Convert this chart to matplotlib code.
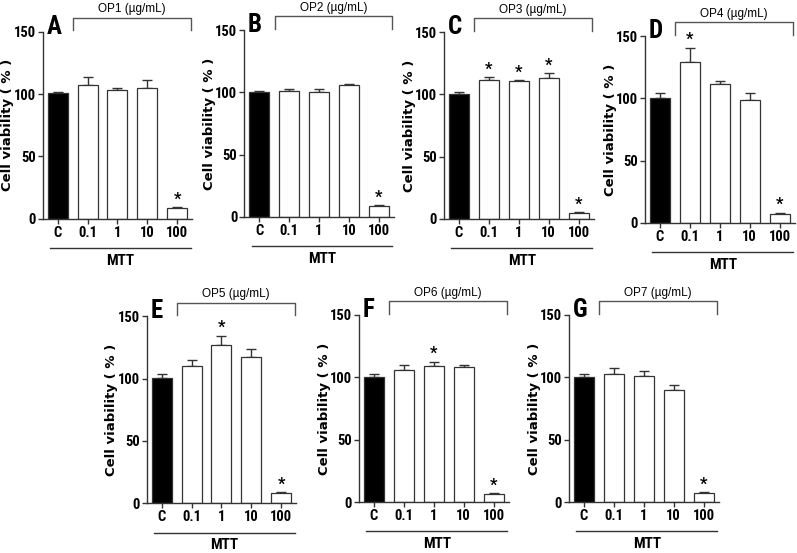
import matplotlib
matplotlib.use("Agg")
import matplotlib.pyplot as plt
from matplotlib import font_manager
from matplotlib.font_manager import FontProperties

plt.rcParams["font.family"] = ["Liberation Sans", "DejaVu Sans"]

# look for an upright condensed bold sans among the installed fonts
narrow_path = None
for f in font_manager.fontManager.ttflist:
    tag = (f.name + " " + f.fname).lower()
    fn = f.fname.lower()
    if not ("narrow" in tag or "condensed" in tag):
        continue
    if "mono" in tag or "serif" in tag or "italic" in fn or f.style != "normal":
        continue
    if "semi" in fn or "extra" in fn or "black" in fn or "light" in fn:
        continue
    if f.weight in ("bold", 700) or "bold" in fn:
        narrow_path = f.fname
        if "liberation" in tag:
            break

doses = ["C", "0.1", "1", "10", "100"]

op1_mean = [100.5, 107.5, 103.5, 105.0, 8.6]
op1_err = [1.1, 6.5, 1.6, 6.2, 0.8]
op1_sig = [0, 0, 0, 0, 1]

op2_mean = [100.5, 101.2, 100.2, 106.0, 8.5]
op2_err = [0.8, 1.2, 2.6, 0.9, 0.8]
op2_sig = [0, 0, 0, 0, 1]

op3_mean = [100.4, 111.6, 110.5, 112.8, 4.6]
op3_err = [1.4, 2.2, 0.8, 4.2, 0.8]
op3_sig = [0, 1, 1, 1, 1]

op4_mean = [100.6, 129.5, 111.8, 98.8, 7.6]
op4_err = [3.8, 11.0, 2.5, 5.8, 0.6]
op4_sig = [0, 1, 0, 0, 1]

op5_mean = [100.8, 109.8, 127.2, 117.0, 8.0]
op5_err = [3.2, 5.2, 7.3, 6.5, 0.8]
op5_sig = [0, 0, 1, 0, 1]

op6_mean = [100.4, 106.0, 109.3, 108.5, 6.2]
op6_err = [1.9, 3.5, 3.2, 1.1, 0.8]
op6_sig = [0, 0, 1, 0, 1]

op7_mean = [100.4, 102.6, 101.0, 90.0, 7.2]
op7_err = [2.2, 4.8, 4.3, 4.0, 0.8]
op7_sig = [0, 0, 0, 0, 1]

letters = ["A", "B", "C", "D", "E", "F", "G"]
titles = ["OP1 (µg/mL)", "OP2 (µg/mL)", "OP3 (µg/mL)", "OP4 (µg/mL)",
          "OP5 (µg/mL)", "OP6 (µg/mL)", "OP7 (µg/mL)"]

panels = [
    (op1_mean, op1_err, op1_sig),
    (op2_mean, op2_err, op2_sig),
    (op3_mean, op3_err, op3_sig),
    (op4_mean, op4_err, op4_sig),
    (op5_mean, op5_err, op5_sig),
    (op6_mean, op6_err, op6_sig),
    (op7_mean, op7_err, op7_sig),
]


def nfont(size):
    if narrow_path:
        return FontProperties(fname=narrow_path, size=size)
    return FontProperties(family="Liberation Sans", weight="bold", size=size * 0.86)


W, H = 797.0, 553.0
# axes boxes in pixels: left x, y of the 0 line (from the top)
boxes = [(42.7, 218.7), (244.3, 217.0), (444.0, 219.0), (645.0, 223.0),
         (146.7, 503.3), (359.0, 502.0), (569.0, 502.0)]
aw, ah = 149.5, 187.0

fig = plt.figure(figsize=(W / 100, H / 100), dpi=100)
edge = "#333333"

for i, (mean, err, sig) in enumerate(panels):
    px, py = boxes[i]
    ax = fig.add_axes([px / W, 1 - py / H, aw / W, ah / H])
    x = list(range(len(doses)))
    colors = ["black"] + ["white"] * (len(doses) - 1)
    ax.errorbar(x, mean, yerr=[[0] * len(err), err], fmt="none", ecolor=edge,
                elinewidth=1.0, capsize=3.5, capthick=1.0, zorder=1)
    ax.bar(x, mean, width=0.667, color=colors, edgecolor=edge, linewidth=0.9, zorder=2)
    for xi, m, e, s in zip(x, mean, err, sig):
        if s:
            ax.text(xi, m + e + 0.5, "*", ha="center", va="bottom",
                    fontproperties=nfont(12))

    ax.set_xlim(-0.5, 4.5)
    ax.set_ylim(0, 150)
    ax.set_yticks([0, 50, 100, 150])
    ax.set_xticks(x)
    ax.set_xticklabels(doses)
    for sp in ["top", "right"]:
        ax.spines[sp].set_visible(False)
    for sp in ["left", "bottom"]:
        ax.spines[sp].set_color(edge)
        ax.spines[sp].set_linewidth(1.0)
    ax.tick_params(axis="both", length=3.5, width=1.0, color=edge, pad=1.5)
    for lab in ax.get_xticklabels() + ax.get_yticklabels():
        lab.set_fontproperties(nfont(10.5))
    ax.set_ylabel("Cell viability ( % )", family="DejaVu Sans", fontsize=9.5,
                  fontweight="bold")
    ax.yaxis.set_label_coords(-0.19, 0.5)

    # panel letter
    ax.text(-0.38, 148.5, letters[i], ha="left", va="baseline",
            fontproperties=nfont(18))

    # concentration bracket
    ax.plot([0.52, 0.52, 4.45, 4.45], [151, 161, 161, 151], color="#555555",
            lw=1.0, clip_on=False)
    ax.text(2.48, 163, titles[i], ha="center", va="bottom", fontsize=8.5)

    # MTT line
    ax.plot([-0.25, 4.45], [-23.5, -23.5], color=edge, lw=1.0, clip_on=False)
    ax.text(2.1, -28, "MTT", ha="center", va="top", fontproperties=nfont(11))

fig.savefig("out.png", dpi=100)
